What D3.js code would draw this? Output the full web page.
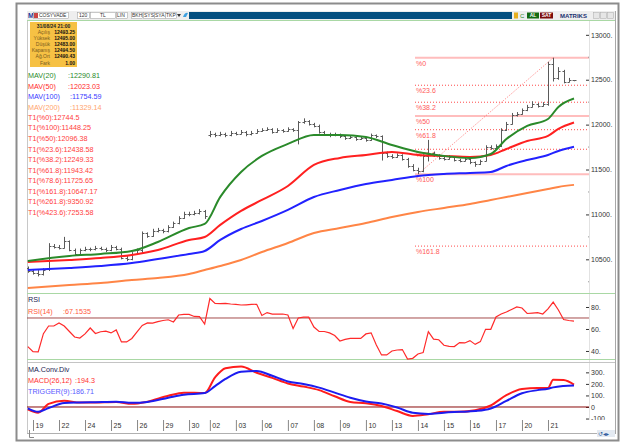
<!DOCTYPE html>
<html>
<head>
<meta charset="utf-8">
<script src="https://cdn.jsdelivr.net/npm/d3@7"></script>
<style>
  html, body { margin: 0; padding: 0; background: #fff; }
  svg { display: block; font-family: "Liberation Sans", Arial, sans-serif; }
</style>
</head>
<body>
<svg id="chart" width="635" height="444"></svg>
<script>
// x ekseni etiketleri (bar index)
const tickIdx = [1, 6, 11, 16, 21, 26, 31, 35, 40, 45, 50, 55, 60, 65, 70, 75, 80, 85, 90, 95, 100];
const tickLabels = ['19', '22', '24', '25', '26', '29', '30', '02', '03', '06', '07', '08', '09', '10', '13', '14', '15', '16', '17', '20', '21'];

// OHLC barlar [acilis, yuksek, dusuk, kapanis]
const bars = [
  [10400, 10420, 10350, 10370], [10370, 10390, 10330, 10350], [10350, 10380, 10310, 10340], [10340, 10400, 10320, 10380],
  [10390, 10680, 10370, 10650], [10650, 10670, 10620, 10640], [10640, 10660, 10610, 10630], [10630, 10750, 10620, 10700],
  [10700, 10710, 10590, 10600], [10600, 10620, 10540, 10560], [10560, 10620, 10550, 10600], [10600, 10640, 10590, 10620],
  [10620, 10630, 10590, 10610], [10610, 10650, 10600, 10630], [10630, 10640, 10600, 10620], [10620, 10630, 10580, 10600],
  [10600, 10660, 10590, 10640], [10640, 10650, 10600, 10620], [10620, 10630, 10500, 10520], [10520, 10540, 10480, 10500],
  [10500, 10580, 10490, 10560], [10560, 10620, 10550, 10600], [10600, 10810, 10570, 10790], [10790, 10800, 10740, 10760],
  [10760, 10840, 10750, 10820], [10820, 10850, 10800, 10830], [10830, 10840, 10790, 10810], [10810, 10880, 10800, 10860],
  [10860, 10920, 10850, 10900], [10900, 10980, 10890, 10960], [10960, 11030, 10950, 11010], [11010, 11030, 10980, 11000],
  [11000, 11040, 10990, 11020], [11020, 11060, 11000, 11040], [11040, 11050, 10950, 10980], [11880, 11930, 11860, 11900],
  [11900, 11910, 11860, 11880], [11880, 11920, 11870, 11900], [11900, 11910, 11860, 11880], [11880, 11930, 11870, 11910],
  [11910, 11920, 11880, 11900], [11900, 11940, 11890, 11920], [11920, 11930, 11870, 11890], [11890, 11930, 11880, 11910],
  [11910, 11950, 11900, 11930], [11930, 11960, 11920, 11940], [11940, 11970, 11930, 11950], [11950, 11960, 11900, 11920],
  [11920, 11960, 11910, 11940], [11940, 11950, 11910, 11930], [11930, 11970, 11920, 11950], [11950, 11960, 11920, 11940],
  [11940, 12040, 11780, 12030], [12030, 12070, 12010, 12040], [12040, 12050, 11990, 12010], [12010, 12020, 11970, 11990],
  [11990, 12000, 11900, 11920], [11920, 11930, 11880, 11900], [11900, 11910, 11860, 11880], [11880, 11910, 11870, 11890],
  [11890, 11900, 11850, 11870], [11870, 11880, 11830, 11850], [11850, 11880, 11840, 11860], [11860, 11870, 11820, 11840],
  [11840, 11870, 11830, 11850], [11850, 11860, 11810, 11830], [11830, 11900, 11820, 11880], [11880, 11890, 11850, 11870],
  [11870, 11880, 11600, 11680], [11680, 11700, 11630, 11650], [11650, 11670, 11620, 11640], [11640, 11680, 11630, 11660],
  [11660, 11670, 11600, 11620], [11620, 11630, 11520, 11540], [11540, 11560, 11480, 11500], [11500, 11520, 11448.25, 11480],
  [11480, 11670, 11470, 11650], [11650, 11830, 11590, 11680], [11680, 11700, 11640, 11660], [11660, 11670, 11610, 11630],
  [11630, 11650, 11600, 11620], [11620, 11660, 11610, 11640], [11640, 11650, 11590, 11610], [11610, 11620, 11580, 11600],
  [11600, 11640, 11590, 11620], [11620, 11630, 11560, 11580], [11580, 11590, 11530, 11560], [11560, 11610, 11550, 11600],
  [11600, 11770, 11590, 11750], [11750, 11770, 11720, 11740], [11740, 11780, 11730, 11760], [11760, 11960, 11750, 11940],
  [11940, 12030, 11930, 12010], [12010, 12130, 12000, 12110], [12110, 12140, 12090, 12120], [12120, 12180, 12110, 12160],
  [12160, 12220, 12150, 12200], [12200, 12260, 12190, 12230], [12230, 12240, 12190, 12210], [12210, 12250, 12200, 12230],
  [12230, 12700, 12210, 12680], [12680, 12744.5, 12480, 12520], [12520, 12640, 12500, 12600], [12600, 12610, 12460, 12480],
  [12480, 12520, 12470, 12500], [12493.25, 12495, 12483, 12494.5]
];

// hareketli ortalamalar (ornek bar index noktalarinda)
const maIdx = [0, 8, 14, 20, 25, 31, 34, 37, 41, 45, 50, 55, 60, 65, 70, 75, 80, 85, 89, 92, 96, 100, 102, 105];
const mav20 = [10482, 10537, 10560, 10593, 10693, 10849, 10894, 11195, 11473, 11651, 11785, 11885, 11885, 11862, 11773, 11695, 11651, 11628, 11673, 11840, 11985, 12063, 12197, 12290.81];
const mav50 = [10470, 10493, 10515, 10549, 10604, 10716, 10749, 10883, 11039, 11161, 11317, 11551, 11629, 11662, 11695, 11662, 11651, 11640, 11662, 11729, 11818, 11874, 11952, 12023.03];
const mav100 = [10381, 10404, 10426, 10459, 10504, 10560, 10593, 10716, 10838, 10927, 11050, 11194, 11272, 11339, 11384, 11429, 11451, 11462, 11473, 11540, 11606, 11662, 11707, 11754.59];
const mav200 = [10181, 10214, 10237, 10270, 10292, 10337, 10381, 10426, 10493, 10581, 10682, 10793, 10849, 10904, 10971, 11027, 11072, 11116, 11161, 11194, 11239, 11283, 11306, 11329.14];
const maNames = ['MAV(20)', 'MAV(50)', 'MAV(100)', 'MAV(200)'];
const maLast = ['12290.81', '12023.03', '11754.59', '11329.14'];

// fibonacci seviyeleri
const fibLabels = ['%0', '%23.6', '%38.2', '%50', '%61.8', '%78.6', '%100', '%161.8'];
const fibValues = [12744.5, 12438.58, 12249.33, 12096.38, 11943.42, 11725.65, 11448.25, 10647.17];
const t1Labels = ['%0', '%100', '%50', '%23.6', '%38.2', '%61.8', '%78.6', '%161.8', '%261.8', '%423.6'];
const t1Values = ['12744.5', '11448.25', '12096.38', '12438.58', '12249.33', '11943.42', '11725.65', '10647.17', '9350.92', '7253.58'];
const fibFrom = [75, 11448.25];
const fibTo = [101, 12744.5];

// RSI(14) her bar icin
const rsi = [43.9, 39.4, 39.1, 55.7, 62.7, 62.7, 65.5, 62.7, 57.7, 52.7,
  51.8, 55.5, 60.9, 55.9, 57.5, 58, 56.4, 59.1, 48.2, 48.2,
  51.4, 57.3, 63.2, 65.5, 65.3, 66.7, 67.7, 68.4, 66.4, 72.7,
  73.2, 73.2, 71.4, 71.2, 64.5, 87.7, 83.2, 83.1, 83.3, 82.7,
  82.3, 81.8, 82, 82.3, 82.5, 72.3, 74.9, 73.6, 73.6, 73.6,
  72.7, 60.5, 70, 70.7, 70.7, 61.8, 57.7, 57.7, 56.4, 54.1,
  49.1, 50.5, 51.5, 51.5, 51.4, 55.5, 56.5, 45.5, 36.4, 36.4,
  40, 40.9, 41.3, 32.7, 33.3, 37.3, 38.5, 57.5, 50.7, 50.2,
  45.2, 44.2, 44, 47.6, 47.3, 49.4, 46, 48.5, 59.7, 59.7,
  70.9, 73.6, 75.5, 77.7, 80, 79.1, 74.1, 74.5, 74.8, 73.6,
  78.2, 84.4, 77.3, 68.6, 67.7, 67.15];

// MACD ve trigger
const macdIdx = [0, 2, 4, 7, 10, 13, 17, 20, 23, 27, 30, 34, 36, 38, 41, 44, 47, 50, 53, 56, 59, 62, 65, 68, 71, 74, 77, 80, 83, 86, 89, 92, 95, 98, 100, 101, 103, 105];
const macd = [-20, -49, 27, 53, 38, 39, 44, 27, 46, 97, 124, 121, 257, 336, 350, 296, 252, 204, 177, 146, 93, 44, 33, 9, -35, -77, -62, -42, -42, -29, 13, 102, 155, 165, 165, 236, 233, 194.3];
const trigger = [-12, -42, -9, 34, 39, 42, 46, 36, 44, 80, 106, 121, 181, 243, 305, 312, 270, 221, 199, 168, 124, 80, 48, 30, -4, -50, -60, -49, -42, -35, -13, 53, 119, 146, 158, 170, 182, 186.71];

// sag eksen degerleri
const priceTicks = [10500, 11000, 11500, 12000, 12500, 13000];
const rsiTicks = [40, 60, 80];
const macdTicks = [-100, 0, 100, 200, 300];

// bilgi kutusu
const infoNames = ['Açılış', 'Yüksek', 'Düşük', 'Kapanış', 'Ağ.Ort', 'Fark'];
const infoValues = ['12493.25', '12495.00', '12483.00', '12494.50', '12490.43', '1.00'];

const svg = d3.select('#chart');
const plotR = 589, panelL = 27, panelR = 615;

// olcekler
const x = d3.scaleLinear().domain([0, 105]).range([27.8, 574]);
const yP = d3.scaleLinear().domain([10125, 13165]).range([293, 20]);
const yR = d3.scaleLinear().domain([33.6, 90]).range([358, 296]);
const yM = d3.scaleLinear().domain([-104, 381]).range([419, 363]);

// cerceve
svg.append('rect').attr('x', 0).attr('y', 0).attr('width', 635).attr('height', 444).attr('fill', '#fff');
svg.append('rect').attr('x', 16.5).attr('y', 3.5).attr('width', 602).attr('height', 437)
  .attr('fill', 'none').attr('stroke', '#8c8c8c').attr('stroke-width', 2);
svg.append('line').attr('x1', panelL + 0.5).attr('x2', panelL + 0.5).attr('y1', 11).attr('y2', 434).attr('stroke', '#c8c8c8');
svg.append('line').attr('x1', panelR + 0.5).attr('x2', panelR + 0.5).attr('y1', 11).attr('y2', 434).attr('stroke', '#a8a8a8');
svg.append('line').attr('x1', plotR + 0.5).attr('x2', plotR + 0.5).attr('y1', 21).attr('y2', 420).attr('stroke', '#e2e2e2');
svg.append('line').attr('x1', panelL).attr('x2', panelR).attr('y1', 433.5).attr('y2', 433.5).attr('stroke', '#b0b0b0');

// panel ayraclari
[20.5, 293.5, 359.5].forEach(yy => {
  svg.append('line').attr('x1', panelL).attr('x2', panelR).attr('y1', yy).attr('y2', yy).attr('stroke', '#a9d8a4');
});
svg.append('line').attr('x1', panelL).attr('x2', panelR).attr('y1', 362.5).attr('y2', 362.5).attr('stroke', '#c4c4c4');

// arac cubugu
const tb = svg.append('g').attr('font-size', 5);
tb.append('rect').attr('x', 27).attr('y', 11).attr('width', 588).attr('height', 9).attr('fill', '#eeeeee');
tb.append('text').attr('x', 28).attr('y', 18).attr('font-size', 7).attr('font-weight', 'bold').attr('fill', '#1b3a9a').text('M');
[[33, 35], [77, 12], [90, 25], [116, 11], [131, 11], [143, 11], [154, 11], [165, 11]].forEach(b => {
  tb.append('rect').attr('x', b[0] + 0.5).attr('y', 12.5).attr('width', b[1]).attr('height', 6)
    .attr('fill', '#fff').attr('stroke', '#9a9a9a').attr('stroke-width', 0.5);
});
tb.append('rect').attr('x', 34).attr('y', 13).attr('width', 4).attr('height', 5).attr('fill', '#c44');
[['COSYVADE', 39], ['120', 79], ['TL', 100], ['LIN', 117], ['BKH', 132], ['SYS', 144], ['SYA', 155], ['TKP', 166]].forEach(t => {
  tb.append('text').attr('x', t[1]).attr('y', 17.3).attr('fill', '#333').text(t[0]);
});
tb.append('path').attr('d', 'M177,14 L181,14 L179,17 Z').attr('fill', '#333');
tb.append('path').attr('d', 'M183,17 Q185,12 188,13 L186,17 Z').attr('fill', '#3ca0e0');
tb.append('rect').attr('x', 189).attr('y', 12).attr('width', 323).attr('height', 7).attr('fill', '#055080');
tb.append('rect').attr('x', 514).attr('y', 12.5).attr('width', 4).attr('height', 6).attr('fill', '#e8b020');
tb.append('text').attr('x', 520).attr('y', 18).attr('font-size', 6).attr('fill', '#2a8a2a').text('C');
tb.append('rect').attr('x', 527).attr('y', 12.5).attr('width', 12).attr('height', 6).attr('fill', '#126a12');
tb.append('text').attr('x', 533).attr('y', 17.3).attr('text-anchor', 'middle').attr('fill', '#fff').attr('font-weight', 'bold').text('AL');
tb.append('rect').attr('x', 540).attr('y', 12.5).attr('width', 13).attr('height', 6).attr('fill', '#7c0c0c');
tb.append('text').attr('x', 546.5).attr('y', 17.3).attr('text-anchor', 'middle').attr('fill', '#fff').attr('font-weight', 'bold').text('SAT');
tb.append('text').attr('x', 560).attr('y', 17.5).attr('font-size', 6).attr('font-weight', 'bold').attr('fill', '#203070').text('MATRIKS');
[593, 600, 607].forEach(bx => {
  tb.append('rect').attr('x', bx + 0.5).attr('y', 12.5).attr('width', 6).attr('height', 6)
    .attr('fill', '#e6e6e6').attr('stroke', '#aaa').attr('stroke-width', 0.5);
});

// bilgi kutusu
const info = svg.append('g').attr('font-size', 5);
info.append('rect').attr('x', 30).attr('y', 22).attr('width', 47).attr('height', 45).attr('fill', '#f6c144');
info.append('text').attr('x', 53.5).attr('y', 27.5).attr('text-anchor', 'middle').attr('font-weight', 'bold').attr('fill', '#222').text('31/08/24 21:00');
infoNames.forEach((n, i) => {
  const yy = 34 + i * 6.1;
  info.append('text').attr('x', 50).attr('y', yy).attr('text-anchor', 'end').attr('fill', '#7a5b1e').text(n);
  info.append('text').attr('x', 75).attr('y', yy).attr('text-anchor', 'end').attr('font-weight', 'bold').attr('fill', '#111').text(infoValues[i]);
});

// fiyat paneli
svg.append('clipPath').attr('id', 'clipP').append('rect').attr('x', panelL).attr('y', 21).attr('width', plotR - panelL).attr('height', 272);
const gP = svg.append('g').attr('clip-path', 'url(#clipP)');

// fibonacci cizgileri
const solidFib = ['%0', '%50', '%100'];
fibValues.forEach((v, i) => {
  const solid = solidFib.includes(fibLabels[i]);
  gP.append('line').attr('x1', 415).attr('x2', plotR).attr('y1', yP(v)).attr('y2', yP(v))
    .attr('stroke', solid ? '#ffbdbd' : '#ff4a4a')
    .attr('stroke-width', solid ? 2 : 1)
    .attr('stroke-dasharray', solid ? null : '1,2');
  gP.append('text').attr('x', 416).attr('y', yP(v) + 6).attr('dominant-baseline', 'middle')
    .attr('font-size', 7).attr('fill', '#ff5a5a').text(fibLabels[i]);
});
gP.append('line').attr('x1', x(fibFrom[0])).attr('y1', yP(fibFrom[1])).attr('x2', x(fibTo[0])).attr('y2', yP(fibTo[1]))
  .attr('stroke', '#ff5a5a').attr('stroke-width', 0.8).attr('stroke-dasharray', '1,1.5');

// OHLC barlar
gP.append('g').selectAll('path').data(bars).join('path')
  .attr('d', (d, i) => {
    const xi = Math.round(x(i)) + 0.5;
    return `M${xi},${yP(d[1])}V${yP(d[2])}M${xi - 2},${Math.round(yP(d[0])) + 0.5}H${xi}M${xi},${Math.round(yP(d[3])) + 0.5}H${xi + 2}`;
  })
  .attr('fill', 'none').attr('stroke', '#5a5a5a').attr('stroke-width', 1);

// ortalama cizgileri
const maSeries = [mav200, mav100, mav50, mav20];
const maColors = ['#ff8546', '#2222ff', '#ff2020', '#2a8a2a'];
const maLine = d3.line().x((d, i) => x(maIdx[i])).y(d => yP(d)).curve(d3.curveMonotoneX);
maSeries.forEach((s, k) => {
  gP.append('path').attr('d', maLine(s)).attr('fill', 'none').attr('stroke', maColors[k]).attr('stroke-width', 2);
});

// fiyat lejanti
const legColors = ['#2a8a2a', '#ff2a2a', '#3a3aff', '#ffa46e'];
maNames.forEach((n, i) => {
  const yy = 76 + i * 10.6;
  svg.append('text').attr('x', 28).attr('y', yy).attr('dominant-baseline', 'middle').attr('font-size', 7.2).attr('fill', legColors[i]).text(n);
  svg.append('text').attr('x', n.length > 7 ? 70 : 68).attr('y', yy).attr('dominant-baseline', 'middle').attr('font-size', 7.2).attr('fill', legColors[i]).text(':' + maLast[i]);
});
t1Labels.forEach((l, i) => {
  svg.append('text').attr('x', 28).attr('y', 118 + i * 10.55).attr('dominant-baseline', 'middle')
    .attr('font-size', 7.2).attr('fill', '#ff3c3c').text(`T1(${l}):${t1Values[i]}`);
});

// sag eksenler
function rightAxis(scale, values, fmt) {
  const g = svg.append('g').attr('transform', `translate(${plotR - 3},0)`)
    .call(d3.axisRight(scale).tickValues(values).tickSize(3).tickPadding(2).tickFormat(fmt));
  g.select('.domain').remove();
  g.selectAll('line').attr('stroke', '#333');
  g.selectAll('text').attr('font-size', 7).attr('fill', '#333').attr('font-family', '"Liberation Sans", Arial, sans-serif');
  return g;
}
rightAxis(yP, priceTicks, d => d + '.');
rightAxis(yR, rsiTicks, d => d + '.');
const gMA = rightAxis(yM, macdTicks, d => d === 0 ? '0' : d + '.');
svg.append('clipPath').attr('id', 'clipM').append('rect').attr('x', 0).attr('y', 363).attr('width', 635).attr('height', 57);
gMA.attr('clip-path', 'url(#clipM)');

// ara tikler
svg.append('g').selectAll('line').data([10250, 10750, 11250, 11750, 12250, 12750]).join('line')
  .attr('x1', plotR - 1).attr('x2', plotR).attr('y1', d => yP(d)).attr('y2', d => yP(d)).attr('stroke', '#999');

// RSI paneli
svg.append('line').attr('x1', panelL).attr('x2', plotR).attr('y1', yR(70)).attr('y2', yR(70)).attr('stroke', '#a44c4c');
svg.append('path').attr('d', d3.line().x((d, i) => x(i)).y(d => yR(d))(rsi))
  .attr('fill', 'none').attr('stroke', '#ff2a2a').attr('stroke-width', 1.2);
svg.append('text').attr('x', 28).attr('y', 300).attr('dominant-baseline', 'middle').attr('font-size', 7.2).attr('fill', '#1c1c50').text('RSI');
svg.append('text').attr('x', 28).attr('y', 312).attr('dominant-baseline', 'middle').attr('font-size', 7.2).attr('fill', '#ff5a3c').text('RSI(14)');
svg.append('text').attr('x', 63).attr('y', 312).attr('dominant-baseline', 'middle').attr('font-size', 7.2).attr('fill', '#ff5a3c').text(':67.1535');

// MACD paneli
svg.append('line').attr('x1', panelL).attr('x2', plotR).attr('y1', yM(0)).attr('y2', yM(0)).attr('stroke', '#8a0a0a');
const mLine = d3.line().x((d, i) => x(macdIdx[i])).y(d => yM(d)).curve(d3.curveMonotoneX);
svg.append('path').attr('d', mLine(macd)).attr('fill', 'none').attr('stroke', '#ff1c1c').attr('stroke-width', 2);
svg.append('path').attr('d', mLine(trigger)).attr('fill', 'none').attr('stroke', '#1c1cf0').attr('stroke-width', 2);
svg.append('text').attr('x', 28).attr('y', 370).attr('dominant-baseline', 'middle').attr('font-size', 7.2).attr('fill', '#1c1c50').text('MA.Conv.Div');
svg.append('text').attr('x', 28).attr('y', 381).attr('dominant-baseline', 'middle').attr('font-size', 7.2).attr('fill', '#ff3030').text('MACD(26,12)');
svg.append('text').attr('x', 75).attr('y', 381).attr('dominant-baseline', 'middle').attr('font-size', 7.2).attr('fill', '#ff3030').text(':194.3');
svg.append('text').attr('x', 28).attr('y', 392).attr('dominant-baseline', 'middle').attr('font-size', 7.2).attr('fill', '#5a5aff').text('TRIGGER(9)');
svg.append('text').attr('x', 70).attr('y', 392).attr('dominant-baseline', 'middle').attr('font-size', 7.2).attr('fill', '#5a5aff').text(':186.71');

// x ekseni
const gX = svg.append('g').attr('transform', 'translate(0,420)')
  .call(d3.axisBottom(x).tickValues(tickIdx).tickSize(11).tickFormat((d, i) => tickLabels[i]));
gX.select('.domain').remove();
gX.selectAll('line').attr('stroke', '#888');
gX.selectAll('text').attr('text-anchor', 'start').attr('x', 2).attr('y', 3).attr('dy', '0.71em')
  .attr('font-size', 7).attr('fill', '#333').attr('font-family', '"Liberation Sans", Arial, sans-serif');

// alt kose ikonlari
svg.append('path').attr('d', 'M29.5,430V437.5H34').attr('fill', 'none').attr('stroke', '#888');
svg.append('rect').attr('x', 597).attr('y', 430).attr('width', 18).attr('height', 7).attr('fill', '#e4eaf2');
svg.append('text').attr('x', 598).attr('y', 436).attr('font-size', 6).attr('fill', '#2c5c9c').text('↺◂▸');
</script>
</body>
</html>
